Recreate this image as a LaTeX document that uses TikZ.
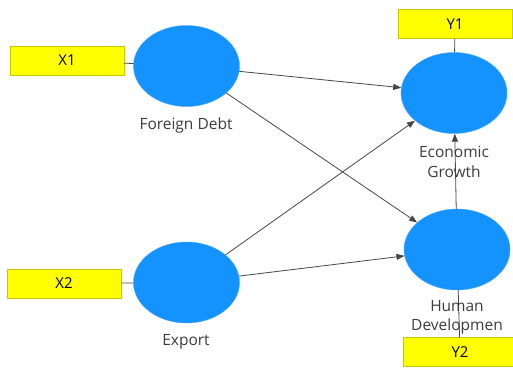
\documentclass[tikz,border=0pt]{standalone}
\usepackage{fontspec}
\setmainfont{Open Sans}
\usetikzlibrary{shapes.geometric,arrows.meta}
\definecolor{lvblue}{RGB}{20,147,255}
\definecolor{mvyellow}{RGB}{255,255,0}
\definecolor{mvborder}{RGB}{200,200,0}
\definecolor{linegray}{RGB}{70,70,70}
\definecolor{labelgray}{RGB}{60,60,60}
\tikzset{
  latent/.style={ellipse,fill=lvblue,draw=lvblue!80!white,minimum width=106pt,minimum height=81pt,inner sep=0pt},
  manifest/.style={rectangle,fill=mvyellow,draw=mvborder,minimum width=114pt,minimum height=29pt,inner sep=0pt,font=\fontsize{15pt}{17pt}\selectfont},
  lvname/.style={text=labelgray,align=center,font=\fontsize{15.5pt}{19.5pt}\selectfont},
  path/.style={draw=linegray,line width=0.8pt,-{Triangle[length=8pt,width=6pt]}},
  load/.style={draw=linegray,line width=0.8pt}
}
\begin{document}
\begin{tikzpicture}[x=1pt,y=-1pt]
\useasboundingbox (0,0) rectangle (513,367);
\node[latent] (fd) at (186.5,66) {};
\node[latent] (ex) at (186.5,282.5) {};
\node[latent] (eg) at (454,93) {};
\node[latent] (hd) at (457,249.5) {};
\node[manifest] (x1) at (67,60.5) {X1};
\node[manifest] (x2) at (64,283.5) {X2};
\node[manifest] (y1) at (455,24) {Y1};
\node[manifest] (y2) at (460,352) {Y2};
\draw[load] (x1) -- (fd);
\draw[load] (x2) -- (ex);
\draw[load] (y1) -- (eg);
\draw[load] (y2) -- (hd);
\draw[path] (fd) -- (eg);
\draw[path] (fd) -- (hd);
\draw[path] (ex) -- (eg);
\draw[path] (ex) -- (hd);
\draw[path] (hd) -- (eg);
\node[lvname] (lfd) at (186,125) {Foreign Debt};
\node[lvname] (lex) at (186,342) {Export};
\node[lvname] (leg) at (454,162) {Economic\\Growth};
\node[lvname] (lhd) at (457,317.5) {Human\\Developmen};
\end{tikzpicture}
\end{document}
